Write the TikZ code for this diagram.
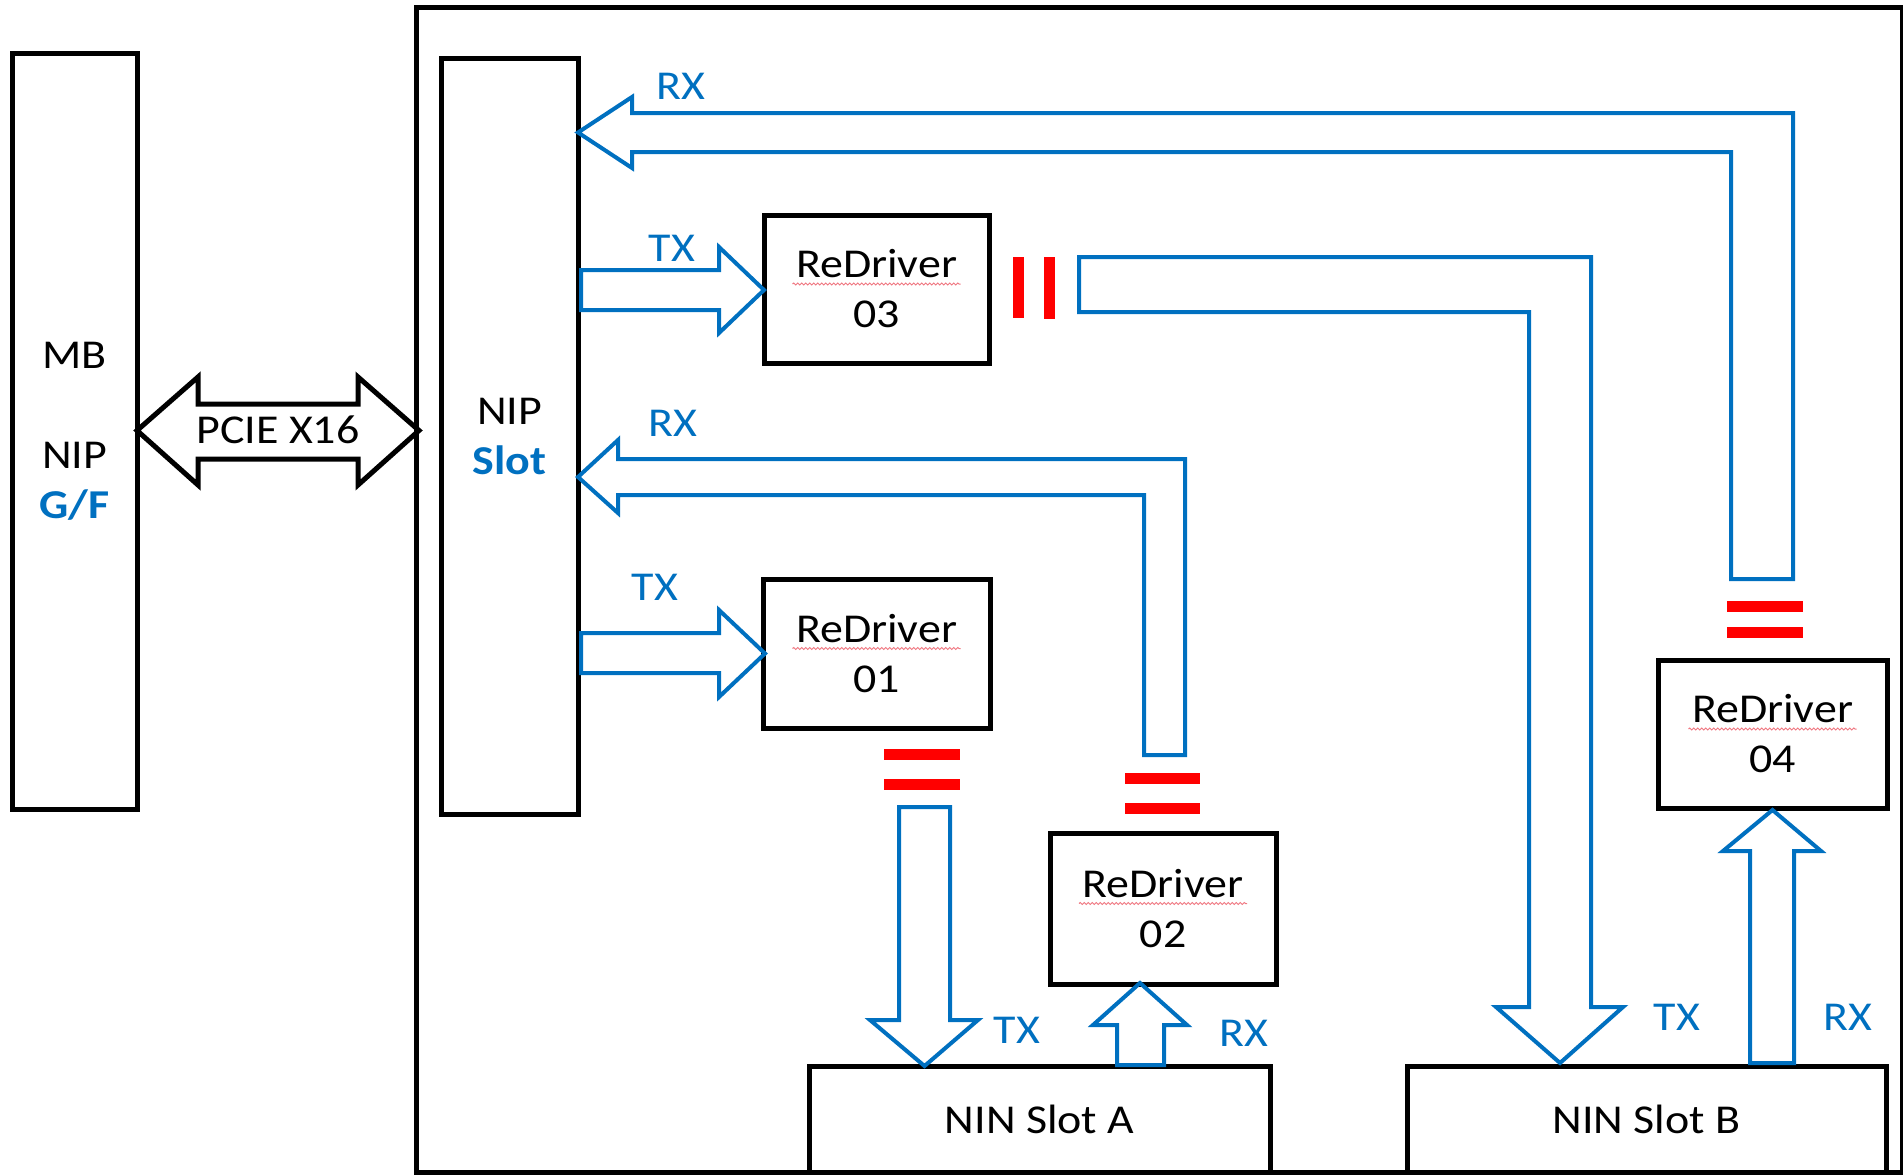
\documentclass[tikz,border=0pt]{standalone}
\usepackage{fontspec}
\setmainfont{Carlito}[FakeStretch=1.12]
\usetikzlibrary{decorations.pathmorphing}
\definecolor{lblue}{RGB}{0,112,192}
\definecolor{lred}{RGB}{255,0,0}
\definecolor{spell}{RGB}{240,120,130}
\begin{document}
\begin{tikzpicture}[x=1pt,y=-1pt,
  every node/.style={font=\fontsize{41}{50}\selectfont, inner sep=0pt, outer sep=0pt},
  box/.style={draw=black, line width=5pt, rectangle, align=center, fill=white},
  blk/.style={draw=lblue, line width=4pt, line join=miter},
  dbl/.style={draw=black, line width=5pt, line join=miter},
  lbl/.style={text=lblue},
  squig/.style={draw=spell, line width=1pt, decorate, decoration={snake, amplitude=1pt, segment length=4pt}},
]
\useasboundingbox (0,0) rectangle (1903,1175);
% boxes
\node[box, minimum width=1486, minimum height=1165] (board) at (1159,589.5) {};
\node[box, minimum width=125, minimum height=756] (mb) at (74.5,431) {MB\\[50pt]NIP\\\textcolor{lblue}{\bfseries G/F}};
\node[box, minimum width=137, minimum height=756] (nip) at (509.5,436) {NIP\\\textcolor{lblue}{\bfseries Slot}};
\node[box, minimum width=225, minimum height=148] (rd3) at (876.5,289) {ReDriver\\03};
\node[box, minimum width=227, minimum height=149] (rd1) at (876.5,653.5) {ReDriver\\01};
\node[box, minimum width=226, minimum height=151] (rd2) at (1163,908.5) {ReDriver\\02};
\node[box, minimum width=229, minimum height=148] (rd4) at (1772.5,734) {ReDriver\\04};
\node[box, minimum width=461, minimum height=106] (nina) at (1039.5,1119) {NIN Slot A};
\node[box, minimum width=479, minimum height=106] (ninb) at (1646.5,1119) {NIN Slot B};
% spell-check squiggles under "ReDriver"
\foreach \r in {rd1,rd2,rd3,rd4}
  \draw[squig] (\r.center) ++(-84,-5) -- ++(168,0);
% PCIE double arrow
\draw[dbl] (137,430.5) -- (198,377) -- (198,404) -- (358,404) -- (358,377) -- (419,430.5)
  -- (358,485) -- (358,459) -- (198,459) -- (198,485) -- cycle;
\node (pcie) at (278,430) {PCIE X16};
% top RX arrow (from ReDriver 04 path to NIP slot)
\draw[blk] (578,132.5) -- (632,97) -- (632,113) -- (1793,113) -- (1793,579) -- (1731,579)
  -- (1731,152) -- (632,152) -- (632,168) -- cycle;
\node[lbl] (rxt) at (681,86) {RX};
% middle RX arrow
\draw[blk] (578,477) -- (618,440) -- (618,459) -- (1185,459) -- (1185,755) -- (1144,755)
  -- (1144,495) -- (618,495) -- (618,513) -- cycle;
\node[lbl] (rxm) at (673,423) {RX};
% TX to ReDriver 03
\draw[blk] (581,270) -- (719,270) -- (719,247) -- (764,290) -- (719,333) -- (719,310) -- (581,310) -- cycle;
\node[lbl] (tx3) at (672,248) {TX};
% TX to ReDriver 01
\draw[blk] (581,633) -- (719,633) -- (719,610) -- (765,653.5) -- (719,697) -- (719,673) -- (581,673) -- cycle;
\node[lbl] (tx1) at (655,587) {TX};
% ReDriver 03 to NIN Slot B
\draw[blk] (1079,257) -- (1591,257) -- (1591,1007) -- (1623,1007) -- (1560,1063) -- (1496,1007)
  -- (1529,1007) -- (1529,312) -- (1079,312) -- cycle;
% ReDriver 01 down to NIN Slot A
\draw[blk] (899,807) -- (950,807) -- (950,1020) -- (978,1020) -- (924.5,1066) -- (870,1020) -- (899,1020) -- cycle;
\node[lbl] (txa) at (1017,1030) {TX};
% NIN Slot A up to ReDriver 02
\draw[blk] (1117,1065) -- (1117,1025) -- (1093,1025) -- (1140,983) -- (1187,1025) -- (1164,1025) -- (1164,1065) -- cycle;
\node[lbl] (rxa) at (1244,1033) {RX};
% NIN Slot B up to ReDriver 04
\draw[blk] (1750,1063) -- (1750,851) -- (1723,851) -- (1772.5,810) -- (1821,851) -- (1794,851) -- (1794,1063) -- cycle;
\node[lbl] (txb) at (1677,1017) {TX};
\node[lbl] (rxb) at (1848,1017) {RX};
% red connector bars
\fill[lred] (1013,257) rectangle (1024,318);
\fill[lred] (1044,257) rectangle (1055,319);
\fill[lred] (884,749) rectangle (960,760);
\fill[lred] (884,779) rectangle (960,790);
\fill[lred] (1125,773) rectangle (1200,784);
\fill[lred] (1125,803) rectangle (1200,814);
\fill[lred] (1727,601) rectangle (1803,612);
\fill[lred] (1727,627) rectangle (1803,638);
\end{tikzpicture}
\end{document}
